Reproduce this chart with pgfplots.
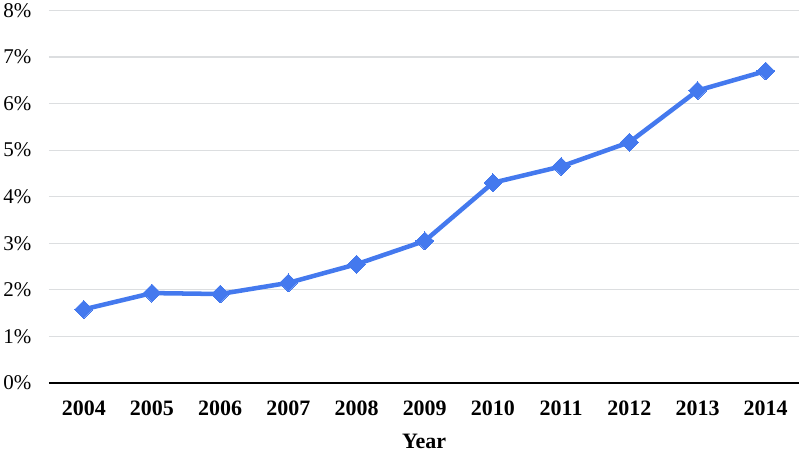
\documentclass[border=0pt]{standalone}
\usepackage{pgfplots}
\pgfplotsset{compat=1.18}
\usepackage{fontspec}
\setmainfont{Liberation Serif}
\definecolor{lineblue}{HTML}{4479EE}
\definecolor{gridgray}{HTML}{DCDEE0}

\begin{document}
\begin{tikzpicture}
\begin{axis}[
  scale only axis,
  width=748bp, height=371.4bp,
  xmin=2003.49, xmax=2014.49,
  ymin=0, ymax=8,
  axis x line=bottom, axis y line=left,
  y axis line style={draw=none},
  x axis line style={black, line width=1.6bp, -},
  tick style={draw=none},
  ymajorgrids,
  grid style={gridgray, line width=1.2bp},
  xtick={2004,...,2014},
  ytick={0,...,8},
  /pgf/number format/assume math mode=true,
  /pgf/number format/1000 sep={},
  yticklabel={\pgfmathprintnumber{\tick}\%},
  yticklabel style={font=\fontsize{21}{25}\selectfont, anchor=east, xshift=-12bp},
  xticklabel style={font=\fontsize{22}{26}\selectfont\bfseries, anchor=north, yshift=-12bp},
  xlabel={Year},
  xlabel style={font=\fontsize{22}{26}\selectfont\bfseries, yshift=-12bp},
]
\addplot[lineblue, line width=4.5bp, mark=square*, mark size=6.3bp, mark options={solid, rotate=45, fill=lineblue, draw=lineblue, line width=0bp}]
coordinates {
(2004,1.58) (2005,1.93) (2006,1.91) (2007,2.15) (2008,2.55) (2009,3.05)
(2010,4.30) (2011,4.65) (2012,5.17) (2013,6.28) (2014,6.70)
};
\end{axis}
\end{tikzpicture}
\end{document}
